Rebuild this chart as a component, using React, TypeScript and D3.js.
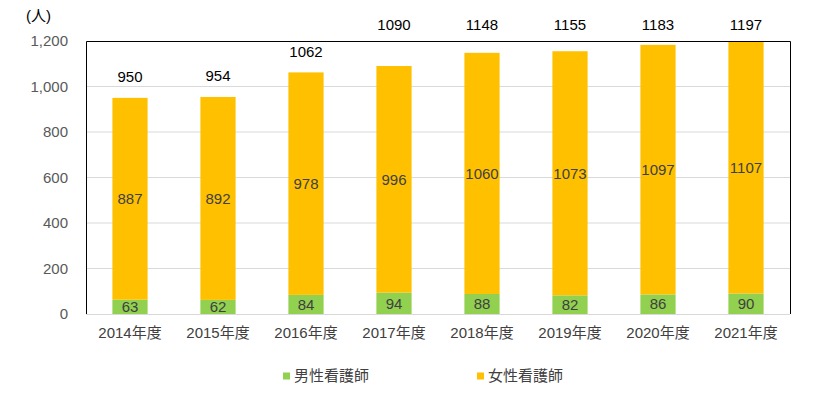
import React, { useEffect, useRef } from "react";
import * as d3 from "d3";

const years = ["2014年度", "2015年度", "2016年度", "2017年度", "2018年度", "2019年度", "2020年度", "2021年度"];
const male = [63, 62, 84, 94, 88, 82, 86, 90];
const female = [887, 892, 978, 996, 1060, 1073, 1097, 1107];
const totals = [950, 954, 1062, 1090, 1148, 1155, 1183, 1197];
const yTicks = [0, 200, 400, 600, 800, 1000, 1200];
const seriesNames = ["男性看護師", "女性看護師"];
const colors = ["#92D050", "#FFC000"];

const W = 825;
const H = 397;
const margin = { top: 41, right: 35, bottom: 83, left: 86 };
const font = "'Liberation Sans', 'Noto Sans CJK JP', sans-serif";

const App = () => {
  const ref = useRef<SVGSVGElement>(null);

  useEffect(() => {
    const svg = d3.select(ref.current);
    svg.selectAll("*").remove();

    const x = d3.scaleBand()
      .domain(years)
      .range([margin.left, W - margin.right])
      .paddingInner(0.6)
      .paddingOuter(0.3);

    const y = d3.scaleLinear()
      .domain([0, 1200])
      .range([H - margin.bottom, margin.top]);

    // gridlines
    svg.append("g")
      .selectAll("line")
      .data(yTicks.filter((t) => t > 0 && t < 1200))
      .enter().append("line")
      .attr("x1", margin.left)
      .attr("x2", W - margin.right)
      .attr("y1", (d) => y(d))
      .attr("y2", (d) => y(d))
      .attr("stroke", "#D9D9D9")
      .attr("stroke-width", 1);

    // stacked bars
    const rows = years.map((yr, i) => ({ yr, m: male[i], f: female[i], t: totals[i] }));

    svg.append("g").selectAll("rect")
      .data(rows)
      .enter().append("rect")
      .attr("x", (d) => x(d.yr)!)
      .attr("width", x.bandwidth())
      .attr("y", (d) => y(d.m))
      .attr("height", (d) => y(0) - y(d.m))
      .attr("fill", colors[0]);

    svg.append("g").selectAll("rect")
      .data(rows)
      .enter().append("rect")
      .attr("x", (d) => x(d.yr)!)
      .attr("width", x.bandwidth())
      .attr("y", (d) => y(d.m + d.f))
      .attr("height", (d) => y(d.m) - y(d.m + d.f))
      .attr("fill", colors[1]);

    // axis line at 0
    svg.append("line")
      .attr("x1", margin.left)
      .attr("x2", W - margin.right)
      .attr("y1", y(0) + 0.5)
      .attr("y2", y(0) + 0.5)
      .attr("stroke", "#D9D9D9");

    // plot border: left, top, right
    svg.append("path")
      .attr("d", `M${margin.left + 0.5},${y(0)} V${margin.top + 0.5} H${W - margin.right + 0.5} V${y(0)}`)
      .attr("fill", "none")
      .attr("stroke", "#000")
      .attr("stroke-width", 1);

    // y tick labels
    svg.append("g").selectAll("text")
      .data(yTicks)
      .enter().append("text")
      .attr("x", 68)
      .attr("y", (d) => y(d))
      .attr("dy", "0.35em")
      .attr("text-anchor", "end")
      .attr("font-family", font)
      .attr("font-size", 15)
      .attr("fill", "#595959")
      .text((d) => d3.format(",")(d));

    svg.append("text")
      .attr("x", 26)
      .attr("y", 16)
      .attr("dy", "0.35em")
      .attr("font-family", font)
      .attr("font-size", 15)
      .attr("fill", "#000")
      .text("(人)");

    // x labels
    svg.append("g").selectAll("text")
      .data(years)
      .enter().append("text")
      .attr("x", (d) => x(d)! + x.bandwidth() / 2)
      .attr("y", 333)
      .attr("dy", "0.35em")
      .attr("text-anchor", "middle")
      .attr("font-family", font)
      .attr("font-size", 15)
      .attr("fill", "#404040")
      .text((d) => d);

    // segment labels
    const segLabel = (get: (d: any) => number, mid: (d: any) => number) => {
      svg.append("g").selectAll("text")
        .data(rows)
        .enter().append("text")
        .attr("x", (d) => x(d.yr)! + x.bandwidth() / 2)
        .attr("y", (d) => y(mid(d)))
        .attr("dy", "0.35em")
        .attr("text-anchor", "middle")
        .attr("font-family", font)
        .attr("font-size", 15)
        .attr("fill", "#404040")
        .text((d) => get(d));
    };
    segLabel((d) => d.m, (d) => d.m / 2);
    segLabel((d) => d.f, (d) => d.m + d.f / 2);

    // total labels
    svg.append("g").selectAll("text")
      .data(rows)
      .enter().append("text")
      .attr("x", (d) => x(d.yr)! + x.bandwidth() / 2)
      .attr("y", (d) => {
        const p = y(d.t) - 21;
        return p < 50 ? 25 : p;
      })
      .attr("dy", "0.35em")
      .attr("text-anchor", "middle")
      .attr("font-family", font)
      .attr("font-size", 15)
      .attr("fill", "#000")
      .text((d) => d.t);

    // legend
    const legendX = [283, 477];
    const lg = svg.append("g").selectAll("g")
      .data(seriesNames)
      .enter().append("g")
      .attr("transform", (d, i) => `translate(${legendX[i]}, 376)`);
    lg.append("rect")
      .attr("x", 0)
      .attr("y", -3.5)
      .attr("width", 7)
      .attr("height", 7)
      .attr("fill", (d, i) => colors[i]);
    lg.append("text")
      .attr("x", 11)
      .attr("y", 0)
      .attr("dy", "0.35em")
      .attr("font-family", font)
      .attr("font-size", 15)
      .attr("fill", "#404040")
      .text((d) => d);
  }, []);

  return (
    <svg ref={ref} width={W} height={H} style={{ position: "absolute", left: 0, top: 0 }}></svg>
  );
};

export default App;
